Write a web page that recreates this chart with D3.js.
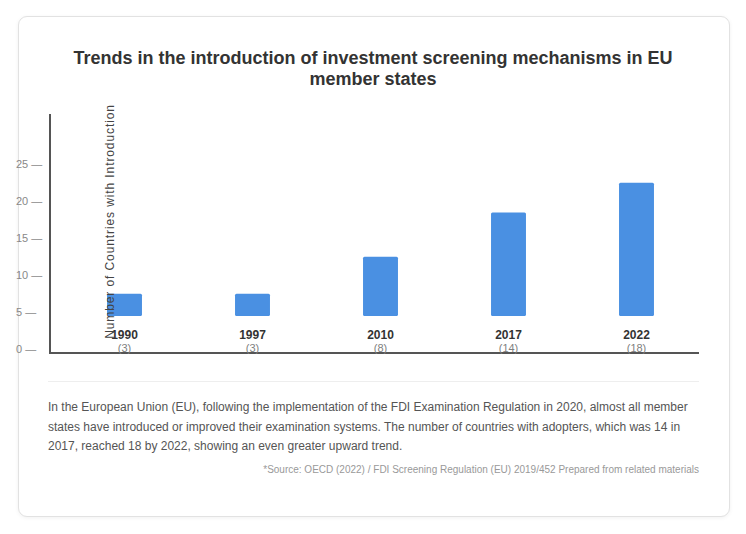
<!DOCTYPE html>
<html><head><meta charset="utf-8">
<script src="https://cdn.jsdelivr.net/npm/d3@7"></script>
<style>
html,body{margin:0;padding:0;background:#fff;font-family:"Liberation Sans",Arial,sans-serif;}
#card{position:absolute;left:18px;top:16px;width:710px;height:499px;border:1px solid #e2e2e2;border-radius:9px;box-shadow:0 1px 4px rgba(0,0,0,0.06);background:#fff;}
svg{position:absolute;left:0;top:0;}
</style></head>
<body>
<div id="card"></div>
<svg id="chart" width="746" height="534"></svg>
<script>
const years = ["1990","1997","2010","2017","2022"];
const counts = [3,3,8,14,18];
const yTicks = [0,5,10,15,20,25];
const titleLines = ["Trends in the introduction of investment screening mechanisms in EU","member states"];
const yLabel = "Number of Countries with Introduction";
const noteLines = [
 "In the European Union (EU), following the implementation of the FDI Examination Regulation in 2020, almost all member",
 "states have introduced or improved their examination systems. The number of countries with adopters, which was 14 in",
 "2017, reached 18 by 2022, showing an even greater upward trend."
];
const source = "*Source: OECD (2022) / FDI Screening Regulation (EU) 2019/452 Prepared from related materials";

const svg = d3.select("#chart");
const font = "'Liberation Sans', Arial, sans-serif";

svg.selectAll("text.title").data(titleLines).enter().append("text")
 .attr("x",373).attr("y",(d,i)=>64+i*21).attr("text-anchor","middle")
 .attr("font-family",font).attr("font-size",18).attr("font-weight","bold").attr("fill","#333")
 .text(d=>d);

const x = d3.scaleBand().domain(years).range([60.5,700.5]).paddingInner(0.727).paddingOuter(0.3635);
const y = d3.scaleLinear().domain([0,25]).range([349,164]);
const barBase = 316;
const offset = y(0)-barBase;

// y tick labels
svg.selectAll("text.ytick").data(yTicks).enter().append("text")
 .attr("x",16).attr("y",d=>y(d)+4).attr("font-family",font).attr("font-size",11).attr("fill","#888")
 .text(d=>d+" \u2014");

// axes lines
svg.append("line").attr("x1",50).attr("x2",50).attr("y1",114).attr("y2",354).attr("stroke","#555").attr("stroke-width",2);
svg.append("line").attr("x1",49).attr("x2",699).attr("y1",353).attr("y2",353).attr("stroke","#555").attr("stroke-width",2);

// bars
svg.selectAll("rect.bar").data(counts).enter().append("rect")
 .attr("x",(d,i)=>x(years[i])).attr("width",x.bandwidth())
 .attr("y",d=>y(d)-offset).attr("height",d=>y(0)-y(d))
 .attr("rx",1.5).attr("fill","#4a90e2");

// year labels
svg.selectAll("text.year").data(years).enter().append("text")
 .attr("x",d=>x(d)+x.bandwidth()/2).attr("y",339).attr("text-anchor","middle")
 .attr("font-family",font).attr("font-size",12).attr("font-weight","bold").attr("fill","#333").text(d=>d);
svg.selectAll("text.cnt").data(counts).enter().append("text")
 .attr("x",(d,i)=>x(years[i])+x.bandwidth()/2).attr("y",352).attr("text-anchor","middle")
 .attr("font-family",font).attr("font-size",11).attr("fill","#808080").text(d=>"("+d+")");

// y label
svg.append("text").attr("transform","translate(114,221.5) rotate(-90)").attr("text-anchor","middle")
 .attr("font-family",font).attr("font-size",12).attr("letter-spacing","0.9px").attr("fill","#444").text(yLabel);

// divider
svg.append("line").attr("x1",48).attr("x2",699).attr("y1",381.5).attr("y2",381.5).attr("stroke","#eee").attr("stroke-width",1);

svg.selectAll("text.note").data(noteLines).enter().append("text")
 .attr("x",48).attr("y",(d,i)=>411+i*19.5).attr("font-family",font).attr("font-size",12).attr("fill","#555").text(d=>d);

svg.append("text").attr("x",699).attr("y",473).attr("text-anchor","end")
 .attr("font-family",font).attr("font-size",10).attr("fill","#999").text(source);
</script>
</body></html>
